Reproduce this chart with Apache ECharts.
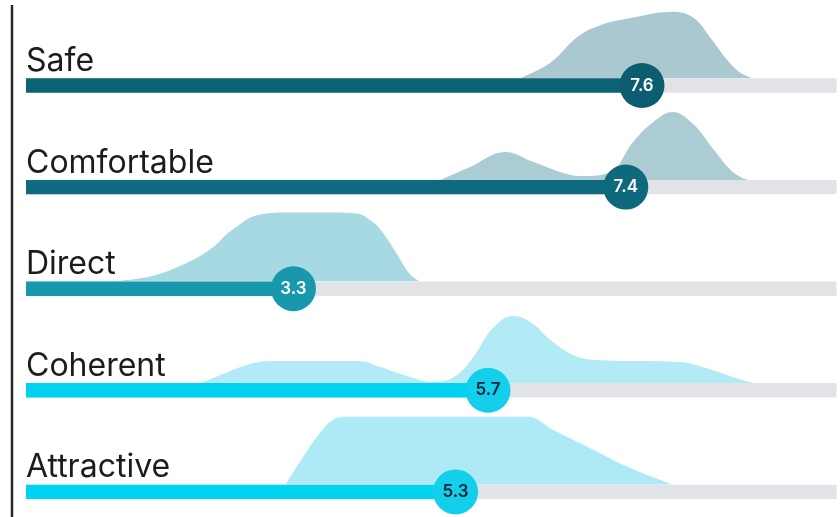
<!DOCTYPE html>
<html><head><meta charset="utf-8">
<script src="https://cdn.jsdelivr.net/npm/echarts@6/dist/echarts.min.js"></script>
<style>html,body{margin:0;padding:0;background:#fff}#c{width:840px;height:517px}</style>
</head><body><div id="c"></div>
<script>
const categories = ['Safe', 'Comfortable', 'Direct', 'Coherent', 'Attractive'];
const scores = [7.6, 7.4, 3.3, 5.7, 5.3];
const scoreLabels = ['7.6', '7.4', '3.3', '5.7', '5.3'];
const scaleMax = 10;
// density curves: [score, relative height]
const densitySafe = [[6.09,0],[6.47,16],[6.80,42],[7.08,54],[7.49,62],[7.98,68],[8.23,62],[8.44,42],[8.65,19],[8.81,6],[8.97,0]];
const densityComfortable = [[5.11,0],[5.48,13],[5.91,28],[6.26,18],[6.67,6],[6.87,4],[7.21,8],[7.49,38],[7.74,58],[7.98,68],[8.23,56],[8.48,31],[8.72,8],[8.90,0]];
const densityDirect = [[1.04,0],[1.53,5],[1.94,17],[2.27,32],[2.55,52],[2.89,67],[3.26,69],[3.75,69],[4.08,68],[4.27,60],[4.40,49],[4.58,27],[4.74,7],[4.86,0]];
const densityCoherent = [[2.17,0],[2.49,11],[2.81,20],[3.05,22],[4.10,22],[4.37,16],[4.74,6],[5.01,1],[5.28,6],[5.52,26],[5.74,53],[6.01,67],[6.24,60],[6.47,43],[6.75,28],[7.02,23],[8.07,21],[8.39,15],[8.76,5],[8.98,0]];
const densityAttractive = [[3.20,0],[3.42,28],[3.63,52],[3.79,65],[3.96,68],[6.18,68],[6.50,55],[7.00,35],[7.42,18],[7.82,5],[7.98,0]];
const densities = [densitySafe, densityComfortable, densityDirect, densityCoherent, densityAttractive];

const barColors = ['#0c6376', '#0e6a7f', '#1798ad', '#00d3ef', '#00d3ef'];
const circleColors = ['#0b5d6f', '#0f697d', '#1798ac', '#13cfeb', '#13cfeb'];
const densityColors = ['#a9c8cf', '#abccd3', '#a7d9e3', '#b2ebf5', '#aeeaf5'];
const labelColors = ['#ffffff', '#ffffff', '#ffffff', '#0c2236', '#0c2236'];

const L = 26, R = 3.5;
const firstCenter = 85.5, rowStep = 101.6, barH = 14.4;

const grids = [{left: L, right: R, top: firstCenter, height: rowStep * 4}];
const xAxes = [{gridIndex: 0, type: 'value', min: 0, max: scaleMax, show: false}];
const yAxes = [{gridIndex: 0, type: 'category', data: categories, inverse: true, boundaryGap: false, show: false}];
const series = [];
categories.forEach((c, i) => {
  const base = firstCenter + rowStep * i - barH / 2;
  grids.push({left: L, right: R, top: base - 80, height: 80});
  xAxes.push({gridIndex: i + 1, type: 'value', min: 0, max: scaleMax, show: false});
  yAxes.push({gridIndex: i + 1, type: 'value', min: 0, max: 80, show: false});
  series.push({
    type: 'line', xAxisIndex: i + 1, yAxisIndex: i + 1, data: densities[i],
    smooth: 0.4, symbol: 'none', lineStyle: {width: 0}, z: 1,
    areaStyle: {color: densityColors[i], opacity: 1}, silent: true
  });
});
series.push({
  type: 'bar', xAxisIndex: 0, yAxisIndex: 0, barWidth: barH, barGap: '-100%', z: 2,
  data: categories.map(() => scaleMax),
  itemStyle: {color: '#e1e3e6'},
  label: {show: true, position: [0, -1], verticalAlign: 'bottom', align: 'left',
    formatter: p => categories[p.dataIndex], fontFamily: 'Inter', fontSize: 32, color: '#1c1c1c'}
});
series.push({
  type: 'bar', xAxisIndex: 0, yAxisIndex: 0, barWidth: barH, z: 3,
  data: scores.map((v, i) => ({value: v, itemStyle: {color: barColors[i]}}))
});
series.push({
  type: 'scatter', xAxisIndex: 0, yAxisIndex: 0, symbolSize: 45, z: 4,
  data: scores.map((v, i) => ({value: [v, categories[i]], itemStyle: {color: circleColors[i], opacity: 1},
    label: {color: labelColors[i]}})),
  label: {show: true, position: 'inside', formatter: p => scoreLabels[p.dataIndex],
    fontFamily: 'Inter', fontSize: 17, fontWeight: 600, letterSpacing: -1}
});

const chart = echarts.init(document.getElementById('c'), null, {renderer: 'canvas'});
chart.setOption({
  animation: false,
  grid: grids, xAxis: xAxes, yAxis: yAxes, series: series,
  graphic: [{type: 'line', shape: {x1: 12, y1: 5, x2: 12, y2: 517}, style: {stroke: '#2a2a2a', lineWidth: 2.5}}]
});
</script></body></html>
